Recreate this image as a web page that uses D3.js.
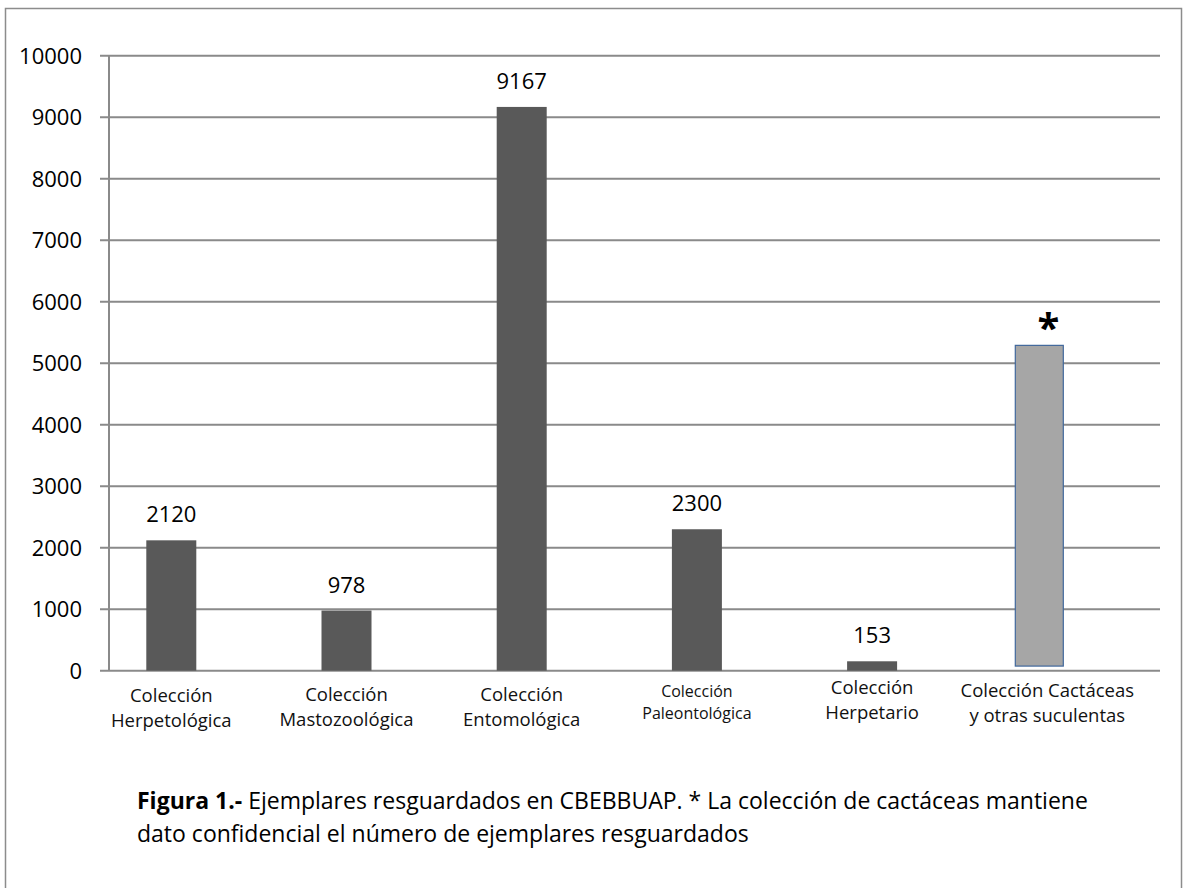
<!DOCTYPE html>
<html>
<head>
<meta charset="utf-8">
<script src="https://cdn.jsdelivr.net/npm/d3@7"></script>
<style>
body { margin: 0; background: #fff; }
svg { display: block; font-family: "Open Sans", sans-serif; }
</style>
</head>
<body>
<svg id="chart" width="1183" height="888"></svg>
<script>
// data
var categories = ["Colección Herpetológica", "Colección Mastozoológica", "Colección Entomológica",
  "Colección Paleontológica", "Colección Herpetario", "Colección Cactáceas y otras suculentas"];
var labelLines = [["Colección", "Herpetológica"], ["Colección", "Mastozoológica"], ["Colección", "Entomológica"],
  ["Colección", "Paleontológica"], ["Colección", "Herpetario"], ["Colección Cactáceas", "y otras suculentas"]];
var counts = [2120, 978, 9167, 2300, 153];//known counts, first five collections
var cactusRange = [75, 5290];//confidential: drawn as a floating box, no number
var yTicks = [0, 1000, 2000, 3000, 4000, 5000, 6000, 7000, 8000, 9000, 10000];
var captionBold = "Figura 1.-";
var captionLines = [" Ejemplares resguardados en CBEBBUAP. * La colección de cactáceas mantiene",
  "dato confidencial el número de ejemplares resguardados"];

// label styling per category (font size, baseline of first line)
var labelSize = [18.5, 18.5, 18.5, 16, 18.5, 18.5];
var labelBase = [702, 701, 701, 697, 694, 697];

var svg = d3.select("#chart");
var plotLeft = 109, plotRight = 1160, plotTop = 55.7, plotBottom = 670.7;

// outer frame
svg.append("rect")
  .attr("x", 5.5).attr("y", 8.5)
  .attr("width", 1176).attr("height", 900)
  .attr("fill", "none").attr("stroke", "#8c8c8c").attr("stroke-width", 1.5);

var x = d3.scaleBand()
  .domain(categories)
  .range([83.7, 1134.9]);

var y = d3.scaleLinear()
  .domain([0, 10000])
  .range([plotBottom, plotTop]);

var barW = 50;

// gridlines + ticks
svg.append("g")
  .selectAll("line")
  .data(yTicks)
  .enter().append("line")
  .attr("x1", plotLeft - 9).attr("x2", plotRight)
  .attr("y1", function(d) { return y(d); })
  .attr("y2", function(d) { return y(d); })
  .attr("stroke", "#8a8a8a")
  .attr("stroke-width", 2);

// y axis line
svg.append("line")
  .attr("x1", plotLeft).attr("x2", plotLeft)
  .attr("y1", y(10000)).attr("y2", y(0))
  .attr("stroke", "#8a8a8a").attr("stroke-width", 2);

// y tick labels
svg.append("g")
  .attr("font-size", 22)
  .attr("text-anchor", "end")
  .selectAll("text")
  .data(yTicks)
  .enter().append("text")
  .attr("x", 82)
  .attr("y", function(d) { return y(d); })
  .attr("dy", "0.36em")
  .attr("fill", "#000")
  .text(function(d) { return d; });

// dark bars
svg.append("g")
  .selectAll("rect")
  .data(counts)
  .enter().append("rect")
  .attr("x", function(d, i) { return x(categories[i]) + x.bandwidth() / 2 - barW / 2; })
  .attr("y", function(d) { return y(d); })
  .attr("width", barW)
  .attr("height", function(d) { return y(0) - y(d); })
  .attr("fill", "#595959");

// value labels
svg.append("g")
  .attr("font-size", 22)
  .attr("text-anchor", "middle")
  .selectAll("text")
  .data(counts)
  .enter().append("text")
  .attr("x", function(d, i) { return x(categories[i]) + x.bandwidth() / 2; })
  .attr("y", function(d) { return y(d) - 18; })
  .text(function(d) { return d; });

// cactus box (hand placed in the original, a bit left of its label)
var cx = x(categories[5]) + x.bandwidth() / 2 - 8;
svg.append("rect")
  .attr("x", cx - 24)
  .attr("y", y(cactusRange[1]))
  .attr("width", 48)
  .attr("height", y(cactusRange[0]) - y(cactusRange[1]))
  .attr("fill", "#a6a6a6")
  .attr("stroke", "#41689c")
  .attr("stroke-width", 1.2);

svg.append("text")
  .attr("x", cx + 9)
  .attr("y", y(cactusRange[1]) - 3)
  .attr("text-anchor", "middle")
  .attr("font-size", 40)
  .attr("font-weight", "bold")
  .text("*");

// category labels
var cat = svg.append("g")
  .attr("text-anchor", "middle")
  .selectAll("text")
  .data(labelLines)
  .enter().append("text")
  .attr("font-size", function(d, i) { return labelSize[i]; })
  .attr("fill", "#111");

cat.selectAll("tspan")
  .data(function(d, i) { return d.map(function(s) { return {s: s, i: i}; }); })
  .enter().append("tspan")
  .attr("x", function(d) { return x(categories[d.i]) + x.bandwidth() / 2; })
  .attr("y", function(d, j) { return labelBase[d.i] + j * (labelSize[d.i] < 17 ? 22 : 25); })
  .text(function(d) { return d.s; });

// caption
var cap = svg.append("text")
  .attr("x", 137)
  .attr("y", 809)
  .attr("font-size", 23)
  .attr("fill", "#000");
cap.append("tspan").attr("font-weight", "bold").text(captionBold);
cap.append("tspan").text(captionLines[0]);

svg.append("text")
  .attr("x", 137)
  .attr("y", 842)
  .attr("font-size", 23)
  .attr("fill", "#000")
  .text(captionLines[1]);
</script>
</body>
</html>
